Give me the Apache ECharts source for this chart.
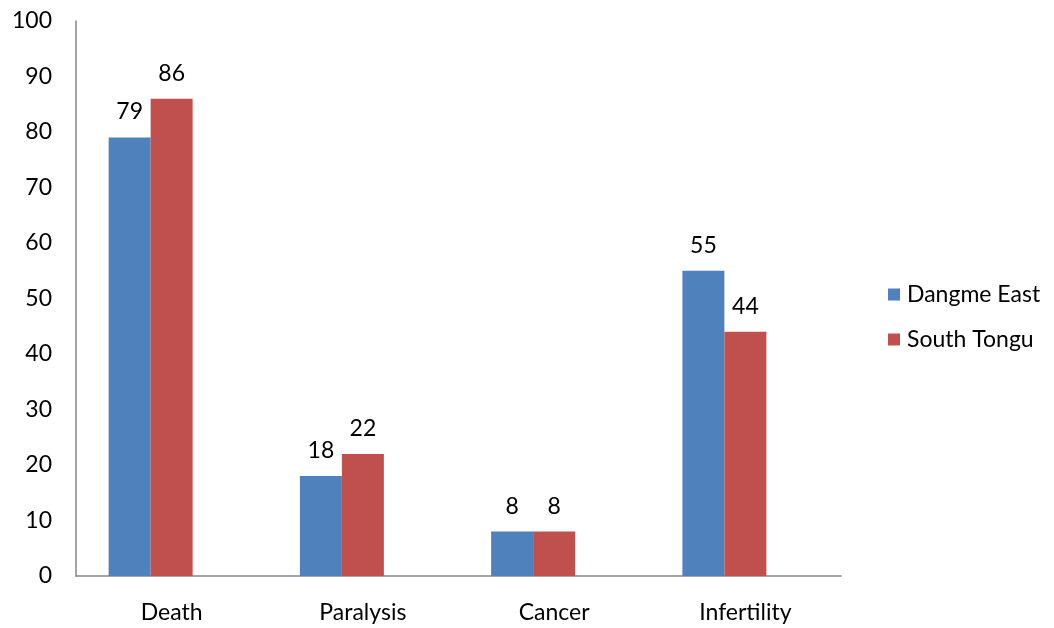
<!DOCTYPE html>
<html><head><meta charset="utf-8">
<script src="https://cdn.jsdelivr.net/npm/echarts@6/dist/echarts.min.js"></script>
<style>html,body{margin:0;padding:0;background:#fff}#c{width:1054px;height:628px}</style>
</head><body><div id="c"></div>
<script>
const categories = ['Death', 'Paralysis', 'Cancer', 'Infertility'];
const dangmeEast = [79, 18, 8, 55];
const southTongu = [86, 22, 8, 44];
const yTicks = [0, 10, 20, 30, 40, 50, 60, 70, 80, 90, 100];
const FONT = 'Lato';
const FS = 23;
const chart = echarts.init(document.getElementById('c'));
const lbl = {show: true, position: 'top', distance: 14, color: '#000', fontFamily: FONT, fontSize: FS};
chart.setOption({
  animation: false,
  grid: {left: 76, right: 213, top: 21, bottom: 52, containLabel: false},
  legend: {
    data: ['Dangme East', 'South Tongu'], orient: 'vertical', left: 883, top: 278,
    itemWidth: 12, itemHeight: 12, itemGap: 22, icon: 'rect',
    textStyle: {fontFamily: FONT, fontSize: FS, color: '#000', padding: [0, 0, 0, 2]}
  },
  xAxis: {
    type: 'category', data: categories,
    axisLine: {lineStyle: {color: '#868686', width: 1.5}}, axisTick: {show: false},
    axisLabel: {color: '#000', fontFamily: FONT, fontSize: FS, margin: 25}
  },
  yAxis: {
    type: 'value', min: yTicks[0], max: yTicks[yTicks.length - 1], interval: 10,
    axisLine: {show: true, lineStyle: {color: '#868686', width: 1.5}}, axisTick: {show: false},
    splitLine: {show: false},
    axisLabel: {color: '#000', fontFamily: FONT, fontSize: FS, margin: 24}
  },
  series: [
    {name: 'Dangme East', type: 'bar', data: dangmeEast, barWidth: 42, barGap: '0%', itemStyle: {color: '#4F81BD'}, label: lbl},
    {name: 'South Tongu', type: 'bar', data: southTongu, barWidth: 42, barGap: '0%', itemStyle: {color: '#C0504D'}, label: lbl},
    {name: 'spacer', type: 'bar', data: categories.map(() => null), barWidth: 42, barGap: '0%'}
  ]
});
</script></body></html>
